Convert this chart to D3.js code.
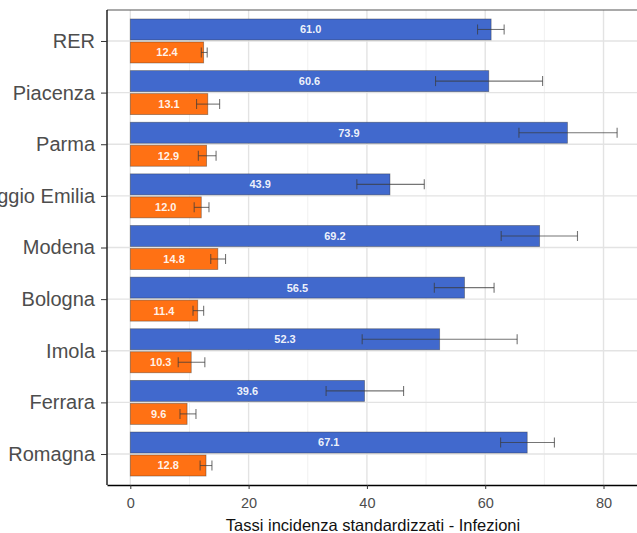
<!DOCTYPE html>
<html><head><meta charset="utf-8">
<script src="https://cdn.jsdelivr.net/npm/d3@7"></script>
<style>body{margin:0;background:#fff}svg{display:block;font-family:"Liberation Sans",Arial,sans-serif}</style>
</head><body><svg id="c" width="637" height="533"></svg>
<script>
const categories = ["RER","Piacenza","Parma","Reggio Emilia","Modena","Bologna","Imola","Ferrara","Romagna"];
const blueValues = [61.0,60.6,73.9,43.9,69.2,56.5,52.3,39.6,67.1];
const blueLow    = [58.7,51.6,65.7,38.3,62.7,51.4,39.2,33.1,62.6];
const blueHigh   = [63.2,69.7,82.3,49.7,75.6,61.5,65.4,46.2,71.7];
const orangeValues = [12.4,13.1,12.9,12.0,14.8,11.4,10.3,9.6,12.8];
const orangeLow    = [12.0,11.2,11.5,10.8,13.6,10.6,8.1,8.4,11.8];
const orangeHigh   = [13.0,15.1,14.5,13.3,16.1,12.4,12.6,11.1,13.8];
const xTicks = [0,20,40,60,80];
const xMinor = [10,30,50,70];
const xTitle = "Tassi incidenza standardizzati - Infezioni";

const svg = d3.select("#c");
const L = 107, R = 639, T = 10, B = 485;
const x = d3.scaleLinear().domain([-3.94, 86.0]).range([L, R]);
const y = d3.scalePoint().domain(categories).range([T, B]).padding(0.6);
const off = 11.5, bh = 21;

const g = svg.append("g");
// grid
g.selectAll(".gmin").data(xMinor).join("line").attr("x1",d=>x(d)).attr("x2",d=>x(d)).attr("y1",T).attr("y2",B).attr("stroke","#f0f0f0").attr("stroke-width",1);
g.selectAll(".gmaj").data(xTicks).join("line").attr("x1",d=>x(d)).attr("x2",d=>x(d)).attr("y1",T).attr("y2",B).attr("stroke","#e3e3e3").attr("stroke-width",1.4);
g.selectAll(".gy").data(categories).join("line").attr("x1",L).attr("x2",R).attr("y1",d=>y(d)).attr("y2",d=>y(d)).attr("stroke","#e3e3e3").attr("stroke-width",1.4);

const series = [
  {vals: blueValues, lo: blueLow, hi: blueHigh, color: "#4169CD", dy: -off},
  {vals: orangeValues, lo: orangeLow, hi: orangeHigh, color: "#FF7114", dy: off}
];
series.forEach(s => {
  const data = categories.map((c,i)=>({c, v:s.vals[i], lo:s.lo[i], hi:s.hi[i]}));
  g.append("g").selectAll("rect").data(data).join("rect")
    .attr("x", x(0)).attr("y", d=>y(d.c)+s.dy-bh/2)
    .attr("width", d=>x(d.v)-x(0)).attr("height", bh)
    .attr("fill", s.color).attr("stroke","rgba(40,40,40,0.45)").attr("stroke-width",0.8);
  const eb = g.append("g").attr("stroke","#3a3a3a").attr("stroke-opacity",0.7).attr("stroke-width",1.1);
  eb.selectAll(".h").data(data).join("line").attr("x1",d=>x(d.lo)).attr("x2",d=>x(d.hi)).attr("y1",d=>y(d.c)+s.dy).attr("y2",d=>y(d.c)+s.dy);
  eb.selectAll(".l").data(data).join("line").attr("x1",d=>x(d.lo)).attr("x2",d=>x(d.lo)).attr("y1",d=>y(d.c)+s.dy-5).attr("y2",d=>y(d.c)+s.dy+5);
  eb.selectAll(".r").data(data).join("line").attr("x1",d=>x(d.hi)).attr("x2",d=>x(d.hi)).attr("y1",d=>y(d.c)+s.dy-5).attr("y2",d=>y(d.c)+s.dy+5);
  g.append("g").selectAll("text").data(data).join("text")
    .attr("x", d=>x(d.v/2)).attr("y", d=>y(d.c)+s.dy).attr("dy","0.36em")
    .attr("text-anchor","middle").attr("fill","#fff").attr("fill-opacity",0.92)
    .attr("font-weight","bold").attr("font-size",11).text(d=>d.v.toFixed(1));
});

// panel border top
svg.append("line").attr("x1",L).attr("x2",R).attr("y1",T).attr("y2",T).attr("stroke","#555").attr("stroke-width",1.2);

// axes
const xa = svg.append("g").attr("transform",`translate(0,${B})`).call(d3.axisBottom(x).tickValues(xTicks).tickSize(4).tickPadding(9).tickSizeOuter(0));
xa.select(".domain").attr("stroke","#000").attr("stroke-width",1.3);
xa.selectAll(".tick line").attr("stroke","#333");
xa.selectAll("text").attr("font-size",14.5).attr("fill","#4d4d4d").attr("font-family","Liberation Sans, Arial, sans-serif");

const ya = svg.append("g").attr("transform",`translate(${L},0)`).call(d3.axisLeft(y).tickSize(6).tickPadding(6).tickSizeOuter(0));
ya.select(".domain").attr("stroke","#000").attr("stroke-width",1.3).attr("d",`M0,${T}V${B}`);
ya.selectAll(".tick line").attr("stroke","#333");
ya.selectAll("text").attr("font-size",20).attr("fill","#4d4d4d").attr("font-family","Liberation Sans, Arial, sans-serif");

svg.append("text").attr("x",(L+R)/2).attr("y",531).attr("text-anchor","middle").attr("font-size",16.5).attr("fill","#111").text(xTitle);
</script></body></html>
